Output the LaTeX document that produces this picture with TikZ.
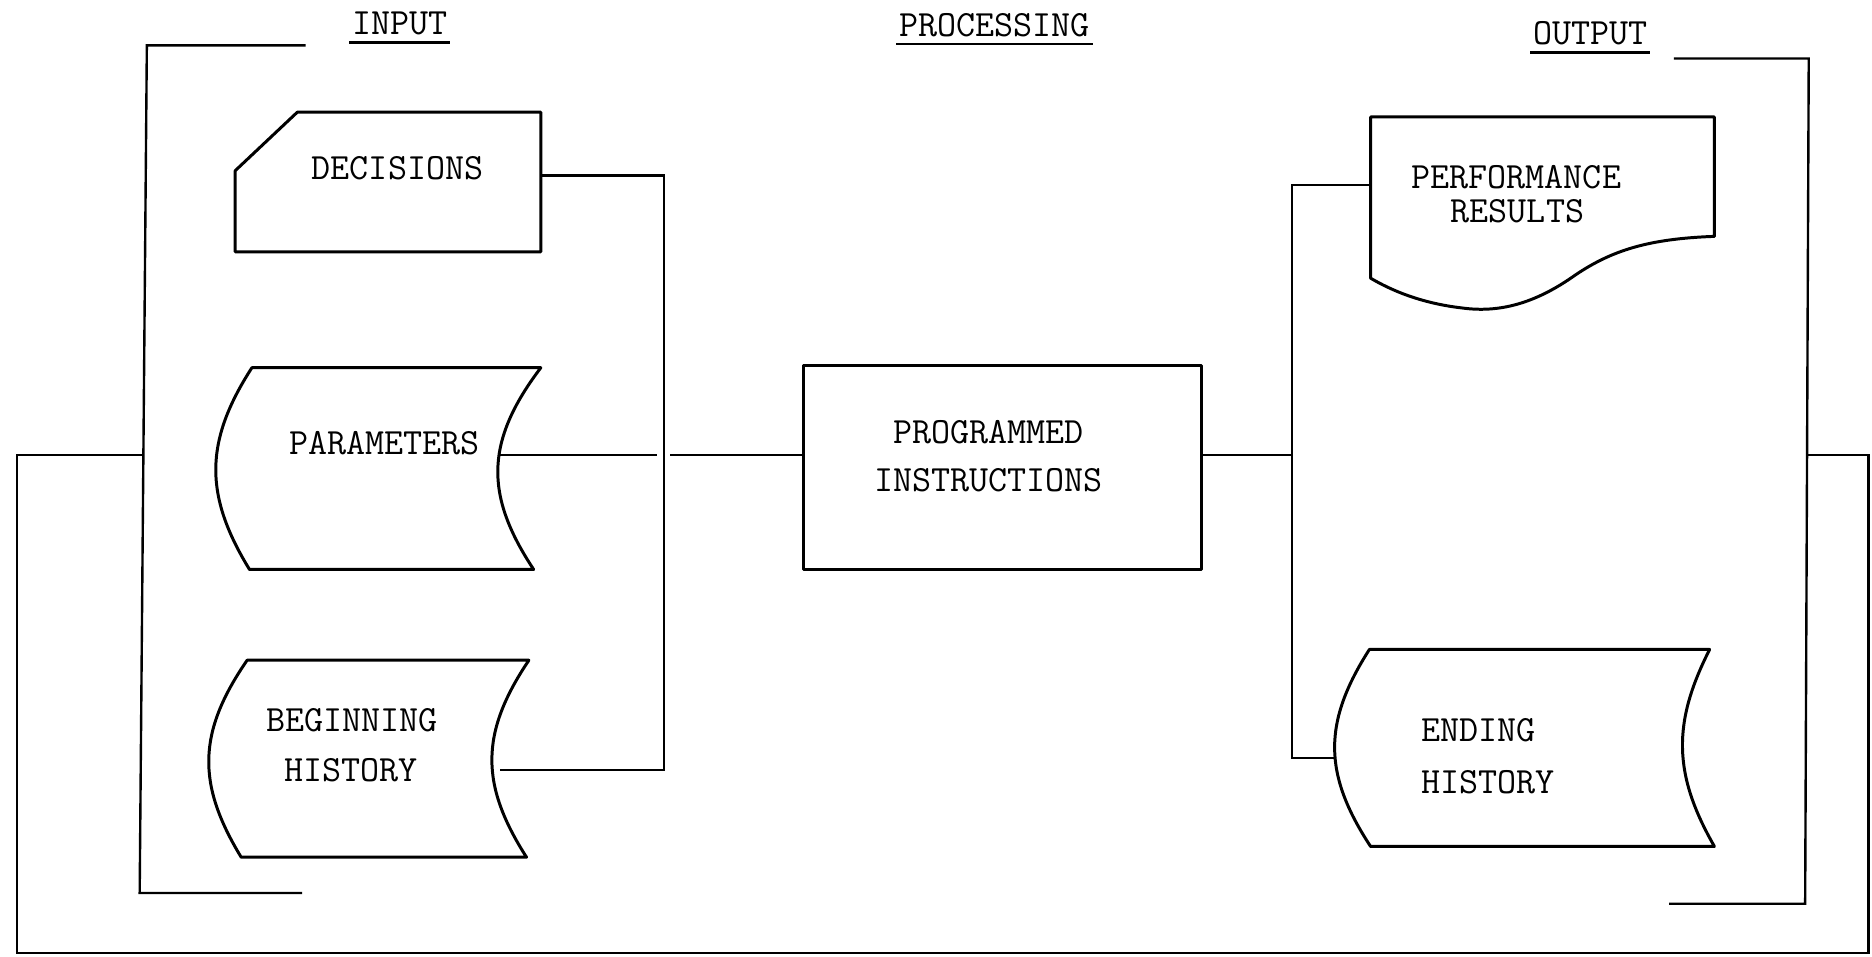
\documentclass[tikz,border=0pt]{standalone}
\tikzset{
  wire/.style={line width=1.0pt, line join=miter, line cap=rect},
  outline/.style={line width=1.25pt, line join=round},
  label/.style={font=\fontsize{15.5}{18}\selectfont\ttfamily, inner sep=0pt, anchor=center},
  lefttext/.style={label, anchor=west},
  rule/.style={line width=1.1pt},
}
\begin{document}
\begin{tikzpicture}[x=0.5pt, y=-0.5pt]
\useasboundingbox (0,0) rectangle (1568,801);

% ---------------- column headings ----------------
\node[label] (hin)  at (335,20)  {INPUT};
\node[label] (hpro) at (833,21)  {PROCESSING};
\node[label] (hout) at (1332,28) {OUTPUT};
\draw[rule] ([xshift=-1pt,yshift=-2.8pt]hin.south west)  -- ([xshift=1pt,yshift=-2.8pt]hin.south east);
\draw[rule] ([xshift=-1pt,yshift=-2.8pt]hpro.south west) -- ([xshift=1pt,yshift=-2.8pt]hpro.south east);
\draw[rule] ([xshift=-1pt,yshift=-2.8pt]hout.south west) -- ([xshift=1pt,yshift=-2.8pt]hout.south east);

% ---------------- input symbols ----------------
% punched card
\draw[outline] (197,143) -- (249,94) -- (453,94) -- (453,211) -- (197,211) -- cycle;
\node[label] (dec) at (333,141) {DECISIONS};

% stored data
\draw[outline] (211,308) -- (453,308) .. controls (406,370) and (406,415) .. (447,477)
  -- (209,477) .. controls (171,415) and (171,370) .. cycle;
\node[label] (par) at (322,371) {PARAMETERS};

\draw[outline] (207,553) -- (443,553) .. controls (402,614) and (402,657) .. (441,718)
  -- (202,718) .. controls (165,657) and (165,614) .. cycle;
\node[label] (beg1) at (295,603) {BEGINNING};
\node[label] (beg2) at (294,645) {HISTORY};

% ---------------- process ----------------
\draw[outline] (673,306) rectangle (1006,477);
\node[label] (pro1) at (828,362) {PROGRAMMED};
\node[label] (pro2) at (828,402) {INSTRUCTIONS};

% ---------------- output symbols ----------------
% document
\draw[outline] (1148,98) -- (1436,98) -- (1436,198)
  .. controls (1380,200) and (1350,210) .. (1320,230)
  .. controls (1285,255) and (1255,262) .. (1225,258)
  .. controls (1190,254) and (1165,243) .. (1148,233) -- cycle;
\node[label] (perf1) at (1270,148) {PERFORMANCE};
\node[label] (perf2) at (1271,177) {RESULTS};

% stored data
\draw[outline] (1147,544) -- (1432,544) .. controls (1401,605) and (1401,648) .. (1436,709)
  -- (1148,709) .. controls (1108,648) and (1108,605) .. cycle;
\node[lefttext] (end1) at (1190,612) {ENDING};
\node[lefttext] (end2) at (1190,655) {HISTORY};

% ---------------- connection points ----------------
\coordinate (decR)   at (455,147);
\coordinate (parR)   at (419,381);
\coordinate (begR)   at (420,645);
\coordinate (inT)    at (556,147);
\coordinate (inB)    at (556,645);
\coordinate (parEnd) at (549,381);
\coordinate (proIn)  at (562,381);
\coordinate (proL)   at (673,381);
\coordinate (proR)   at (1006,381);
\coordinate (outM)   at (1082,381);
\coordinate (outT)   at (1082,155);
\coordinate (outB)   at (1082,635);
\coordinate (perfL)  at (1148,155);
\coordinate (endL)   at (1118,635);

% input bus
\draw[wire] (decR) -- (inT) -- (inB) -- (begR);
\draw[wire] (parR) -- (parEnd);
\draw[wire] (proIn) -- (proL);

% output bus
\draw[wire] (proR) -- (outM);
\draw[wire] (perfL) -- (outT) -- (outB) -- (endL);

% ---------------- group brackets ----------------
\coordinate (inTopEnd) at (255,38);
\coordinate (inTop)    at (123,38);
\coordinate (inBot)    at (117,748);
\coordinate (inBotEnd) at (252,748);
\draw[wire] (inTopEnd) -- (inTop) -- (inBot) -- (inBotEnd);

\coordinate (outTopEnd) at (1403,49);
\coordinate (outTop)    at (1515,49);
\coordinate (outBot)    at (1512,757);
\coordinate (outBotEnd) at (1399,757);
\draw[wire] (outTopEnd) -- (outTop) -- (outBot) -- (outBotEnd);

% ---------------- feedback loop ----------------
\coordinate (loopA) at (119,381);
\coordinate (loopB) at (14,381);
\coordinate (loopC) at (14,798);
\coordinate (loopD) at (1565,798);
\coordinate (loopE) at (1565,381);
\coordinate (loopF) at (1514,381);
\draw[wire] (loopA) -- (loopB) -- (loopC) -- (loopD) -- (loopE) -- (loopF);
\end{tikzpicture}
\end{document}
